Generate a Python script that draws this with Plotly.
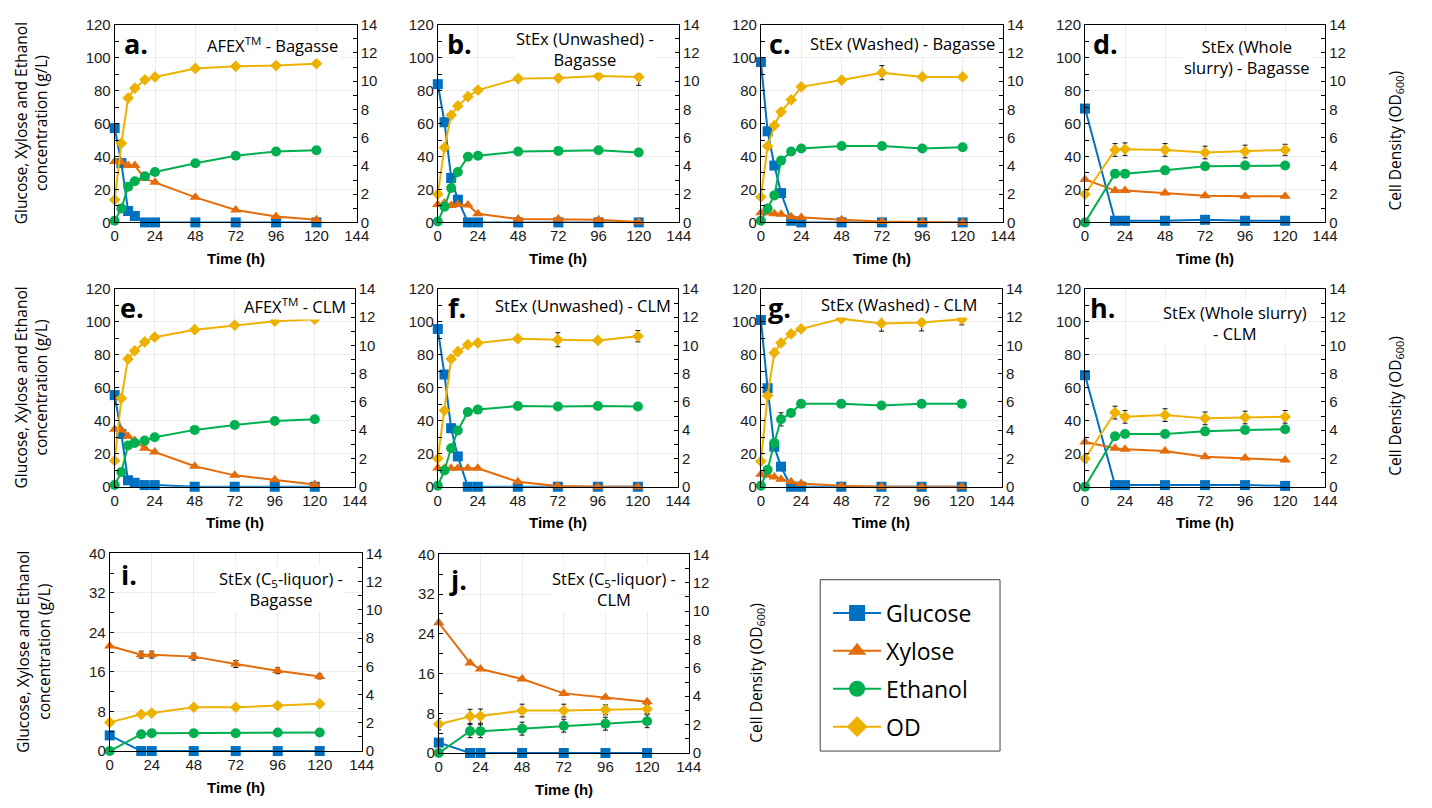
import plotly.graph_objects as go

W, H = 1432, 808

# ---------------- data ----------------
T_FULL = [0, 4, 8, 12, 18, 24, 48, 72, 96, 120]
T_SHORT = [0, 18, 24, 48, 72, 96, 120]
X_TICKS = [0, 24, 48, 72, 96, 120, 144]
SERIES = ["Glucose", "Xylose", "Ethanol", "OD"]

A_glc = [57.2, 36.0, 6.9, 3.9, 0, 0, 0, 0, 0, 0]
A_xyl = [36.9, 36.5, 34.5, 34.5, 26.6, 24.3, 15.2, 7.5, 3.6, 1.6]
A_eth = [1.0, 8.5, 21.7, 25.0, 28.0, 30.6, 35.9, 40.5, 43.0, 43.8]
A_od = [1.6, 5.6, 8.8, 9.5, 10.1, 10.3, 10.9, 11.05, 11.1, 11.24]

B_glc = [83.9, 60.8, 27.0, 13.8, 0, 0, 0, 0, 0, 0]
B_xyl = [10.9, 11.8, 10.3, 10.9, 10.5, 5.3, 2.0, 2.0, 1.6, 0.2]
B_eth = [0.6, 9.5, 20.9, 30.6, 39.9, 40.5, 43.0, 43.4, 43.8, 42.4]
B_od = [2.0, 5.3, 7.6, 8.25, 8.9, 9.37, 10.18, 10.22, 10.36, 10.3]
B_od_err = [0, 0, 0, 0, 0, 0, 0, 0, 0, 0.6]

C_glc = [97.3, 55.3, 34.5, 17.8, 1.0, 0, 0, 0, 0, 0]
C_xyl = [5.9, 5.9, 5.3, 4.9, 3.4, 3.0, 1.6, 0.6, 0.4, 0]
C_eth = [1.0, 8.5, 16.4, 37.5, 43.0, 44.8, 46.4, 46.4, 44.8, 45.6]
C_od = [1.8, 5.4, 6.86, 7.83, 8.68, 9.6, 10.08, 10.6, 10.3, 10.3]
C_od_err = [0, 0, 0, 0, 0, 0, 0, 0.5, 0, 0]

D_glc = [69.1, 1.0, 1.0, 1.0, 1.6, 1.0, 1.0]
D_xyl = [26.0, 19.3, 19.3, 17.8, 16.2, 15.8, 15.8]
D_eth = [0, 29.6, 29.6, 31.6, 34.1, 34.5, 34.5]
D_od = [2.0, 5.13, 5.18, 5.13, 4.95, 5.02, 5.13]
D_od_err = [0, 0.45, 0.45, 0.45, 0.45, 0.45, 0.4]

E_glc = [55.6, 32.0, 3.9, 2.4, 1.0, 1.0, 0, 0, 0, 0]
E_xyl = [34.9, 34.5, 30.6, 28.0, 23.3, 21.1, 12.4, 6.9, 4.3, 1.4]
E_eth = [1.0, 8.9, 25.0, 26.6, 28.0, 30.0, 34.5, 37.5, 39.9, 40.9]
E_od = [1.84, 6.26, 9.05, 9.62, 10.25, 10.59, 11.12, 11.44, 11.72, 11.86]

F_glc = [95.7, 68.1, 35.5, 18.4, 0, 0, 0, 0, 0, 0]
F_xyl = [11.4, 11.2, 11.2, 11.2, 11.2, 11.2, 3.0, 0.4, 0, 0]
F_eth = [0.6, 9.9, 23.3, 34.1, 45.4, 46.8, 49.0, 48.7, 49.0, 48.7]
F_od = [2.0, 5.4, 9.05, 9.56, 10.06, 10.18, 10.48, 10.41, 10.36, 10.66]
F_od_err = [0, 0, 0, 0, 0, 0, 0, 0.5, 0, 0.4]

G_glc = [101.2, 59.8, 24.3, 12.2, 0, 0, 0, 0, 0, 0]
G_xyl = [7.5, 6.9, 5.9, 4.5, 3.0, 2.0, 0.6, 0, 0, 0]
G_eth = [0.6, 10.3, 26.6, 40.9, 44.8, 50.3, 50.3, 49.3, 50.3, 50.3]
G_eth_err = [0, 0, 0, 4.0, 0, 0, 0, 0, 0, 0]
G_od = [1.8, 6.45, 9.49, 10.18, 10.82, 11.17, 11.9, 11.56, 11.63, 11.86]
G_od_err = [0, 0, 0, 0, 0, 0, 0, 0.55, 0.6, 0.4]

H_glc = [67.7, 1.0, 1.0, 1.0, 1.0, 1.0, 0.5]
H_xyl = [27.2, 23.3, 22.7, 21.7, 18.2, 17.4, 16.2]
H_eth = [0, 30.6, 32.0, 32.0, 33.6, 34.5, 34.9]
H_od = [2.0, 5.25, 4.95, 5.07, 4.84, 4.9, 4.95]
H_od_err = [0.3, 0.45, 0.45, 0.45, 0.45, 0.45, 0.45]

I_glc = [3.16, 0, 0, 0, 0, 0, 0]
I_xyl = [21.25, 19.5, 19.5, 19.1, 17.6, 16.25, 15.1]
I_xyl_err = [0, 0.7, 0.7, 0.7, 0.7, 0.6, 0.5]
I_eth = [0, 3.4, 3.6, 3.6, 3.6, 3.75, 3.75]
I_od = [2.03, 2.6, 2.69, 3.1, 3.1, 3.22, 3.34]

J_glc = [2.1, 0, 0, 0, 0, 0, 0]
J_xyl = [26.2, 18.1, 16.9, 14.9, 12.0, 11.2, 10.3]
J_eth = [0, 4.4, 4.4, 4.9, 5.5, 5.9, 6.4]
J_eth_err = [0, 1.3, 1.3, 1.3, 1.3, 1.3, 1.3]
J_od = [2.03, 2.58, 2.6, 2.99, 2.99, 3.04, 3.1]
J_od_err = [0.4, 0.5, 0.5, 0.45, 0.45, 0.35, 0.3]

LETTERS = ["a.", "b.", "c.", "d.", "e.", "f.", "g.", "h.", "i.", "j."]
TITLES = [
    "AFEX<sup>TM</sup> - Bagasse",
    "StEx (Unwashed) -<br>Bagasse",
    "StEx (Washed) - Bagasse",
    "StEx (Whole<br>slurry) - Bagasse",
    "AFEX<sup>TM</sup> - CLM",
    "StEx (Unwashed) - CLM",
    "StEx (Washed) - CLM",
    "StEx (Whole slurry)<br>- CLM",
    "StEx (C<sub>5</sub>-liquor) -<br>Bagasse",
    "StEx (C<sub>5</sub>-liquor) -<br>CLM",
]
Y_TITLE = "Glucose, Xylose and Ethanol<br>concentration (g/L)"
Y2_TITLE = "Cell Density (OD<sub>600</sub>)"
X_TITLE = "Time (h)"

# ---------------- style / layout ----------------
COLORS = {"Glucose": "#0070C0", "Xylose": "#E46C0A", "Ethanol": "#00B050", "OD": "#EDB100"}
SYMBOLS = {"Glucose": "square", "Xylose": "triangle-up", "Ethanol": "circle", "OD": "diamond"}
MSIZE = {"Glucose": 10, "Xylose": 10, "Ethanol": 10, "OD": 9}

# pixel boxes (left, right, top, bottom) of each plot area
BOXES = [(112, 357, 16, 218), (439, 683, 16, 218), (766, 1011, 16, 218), (1094, 1337, 16, 218),
         (112, 355, 286, 488), (439, 682, 286, 488), (766, 1010, 286, 488), (1094, 1337, 286, 488),
         (107, 362, 556, 758), (440, 693, 557, 760)]
TITLE_POS = [(272, 37), (588, 41), (909, 35), (1258, 49),
             (294, 303), (586, 303), (906, 302), (1246, 321),
             (280, 592), (617, 592)]
LETTER_POS = [(119, 35), (446, 35), (772, 35), (1100, 35),
              (115, 305), (447, 305), (771, 305), (1097, 305),
              (116, 578), (448, 583)]

PANELS = [
    (T_FULL, A_glc, A_xyl, A_eth, A_od, None, None, None, 120),
    (T_FULL, B_glc, B_xyl, B_eth, B_od, None, None, B_od_err, 120),
    (T_FULL, C_glc, C_xyl, C_eth, C_od, None, None, C_od_err, 120),
    (T_SHORT, D_glc, D_xyl, D_eth, D_od, None, None, D_od_err, 120),
    (T_FULL, E_glc, E_xyl, E_eth, E_od, None, None, None, 120),
    (T_FULL, F_glc, F_xyl, F_eth, F_od, None, None, F_od_err, 120),
    (T_FULL, G_glc, G_xyl, G_eth, G_od, None, G_eth_err, G_od_err, 120),
    (T_SHORT, H_glc, H_xyl, H_eth, H_od, None, None, H_od_err, 120),
    (T_SHORT, I_glc, I_xyl, I_eth, I_od, I_xyl_err, None, None, 40),
    (T_SHORT, J_glc, J_xyl, J_eth, J_od, None, J_eth_err, J_od_err, 40),
]

TICK_FONT = dict(family="Liberation Sans, Arial", size=15, color="#1a1a1a")
TEXT_FONT = "Open Sans, Noto Sans, sans-serif"


def px(x):
    return x / W


def py(y):
    return 1 - y / H


fig = go.Figure()
layout = dict(
    width=W, height=H,
    margin=dict(l=0, r=0, t=0, b=0),
    paper_bgcolor="white", plot_bgcolor="white",
    showlegend=True,
)
annotations = []

for k, (t, glc, xyl, eth, od, xyl_err, eth_err, od_err, ymax) in enumerate(PANELS, start=1):
    xname = "x" if k == 1 else f"x{k}"
    yi1, yi2 = 2 * k - 1, 2 * k
    y1name = "y" if yi1 == 1 else f"y{yi1}"
    y2name = f"y{yi2}"
    l, r, tp, bt = BOXES[k - 1]
    dmaj = 20 if ymax == 120 else 8

    vals = {"Glucose": (glc, None, y1name), "Xylose": (xyl, xyl_err, y1name),
            "Ethanol": (eth, eth_err, y1name), "OD": (od, od_err, y2name)}
    for s in SERIES:
        yv, err, yax = vals[s]
        fig.add_trace(go.Scatter(
            x=t, y=yv, mode="lines+markers", name=s,
            line=dict(color=COLORS[s], width=2),
            marker=dict(symbol=SYMBOLS[s], size=MSIZE[s], color=COLORS[s]),
            error_y=dict(type="data", array=err if err is not None else [0] * len(t),
                         visible=err is not None, color="#111111", thickness=1, width=2.5),
            cliponaxis=False, showlegend=False, legendgroup=s,
            xaxis=xname, yaxis=yax,
        ))

    xkey = "xaxis" if k == 1 else f"xaxis{k}"
    y1key = "yaxis" if yi1 == 1 else f"yaxis{yi1}"
    y2key = f"yaxis{yi2}"
    layout[xkey] = dict(
        domain=[px(l), px(r)], anchor=y1name, range=[0, 144],
        tickvals=X_TICKS, ticks="", showline=True, linecolor="black", linewidth=1,
        mirror=True, showgrid=True, gridcolor="#ececec", gridwidth=1, zeroline=False,
        tickfont=TICK_FONT,
    )
    layout[y1key] = dict(
        domain=[py(bt), py(tp)], anchor=xname, range=[0, ymax], dtick=dmaj, tick0=0,
        ticks="inside", ticklen=4, tickcolor="black", showline=True, linecolor="black",
        linewidth=1, showgrid=True, gridcolor="#ececec", zeroline=False, tickfont=TICK_FONT,
        minor=dict(dtick=dmaj / 2, ticks="inside", ticklen=4, tickcolor="black", showgrid=False),
    )
    layout[y2key] = dict(
        overlaying=y1name, side="right", anchor=xname, range=[0, 14], dtick=2,
        ticks="inside", ticklen=4, tickcolor="black", showline=True, linecolor="black",
        linewidth=1, showgrid=False, zeroline=False, tickfont=TICK_FONT,
        minor=dict(dtick=1, ticks="inside", ticklen=4, tickcolor="black", showgrid=False),
    )

    lx, ly = LETTER_POS[k - 1]
    annotations.append(dict(
        text=f"<b>{LETTERS[k - 1]}</b>", x=px(lx), y=py(ly), xref="paper", yref="paper",
        xanchor="left", yanchor="middle", showarrow=False,
        font=dict(family=TEXT_FONT, size=27, color="black"),
    ))
    tx, ty = TITLE_POS[k - 1]
    annotations.append(dict(
        text=TITLES[k - 1], x=px(tx), y=py(ty), xref="paper", yref="paper",
        xanchor="center", yanchor="middle", align="center", showarrow=False,
        bgcolor="white", font=dict(family=TEXT_FONT, size=16.5, color="black"),
    ))
    annotations.append(dict(
        text=f"<b>{X_TITLE}</b>", x=px((l + r) / 2), y=py(bt + 37), xref="paper", yref="paper",
        xanchor="center", yanchor="middle", showarrow=False,
        font=dict(family="Liberation Sans, Arial", size=15, color="black"),
    ))

# axis titles
for (x0, y0) in [(27, 117), (27, 387), (30, 657)]:
    annotations.append(dict(
        text=Y_TITLE, x=px(x0), y=py(y0), xref="paper", yref="paper", textangle=-90,
        xanchor="center", yanchor="middle", showarrow=False, align="center",
        font=dict(family=TEXT_FONT, size=15.5, color="black"),
    ))
for (x0, y0) in [(1408, 135), (1408, 406), (762, 678)]:
    annotations.append(dict(
        text=Y2_TITLE, x=px(x0), y=py(y0), xref="paper", yref="paper", textangle=-90,
        xanchor="center", yanchor="middle", showarrow=False,
        font=dict(family=TEXT_FONT, size=15.5, color="black"),
    ))

# legend-only entries (bigger symbols like the reference legend)
for s in SERIES:
    fig.add_trace(go.Scatter(
        x=[None], y=[None], mode="lines+markers", name=s,
        line=dict(color=COLORS[s], width=2),
        marker=dict(symbol=SYMBOLS[s], size=16, color=COLORS[s]),
        showlegend=True, legendgroup=s, xaxis="x", yaxis="y",
    ))

layout["legend"] = dict(
    x=px(834), y=py(595), xanchor="left", yanchor="top",
    font=dict(family=TEXT_FONT, size=23, color="black"),
    bgcolor="rgba(0,0,0,0)", borderwidth=0, itemwidth=48,
    tracegroupgap=5, itemsizing="trace",
)
layout["shapes"] = [dict(type="rect", xref="paper", yref="paper",
                         x0=px(826), x1=px(1008), y0=py(758), y1=py(583),
                         line=dict(color="#444444", width=1))]
layout["annotations"] = annotations
fig.update_layout(**layout)

fig.write_html(
    "out.html",
    config={"displayModeBar": False},
    post_script="document.body.style.margin='0';document.documentElement.style.overflow='hidden';",
)
